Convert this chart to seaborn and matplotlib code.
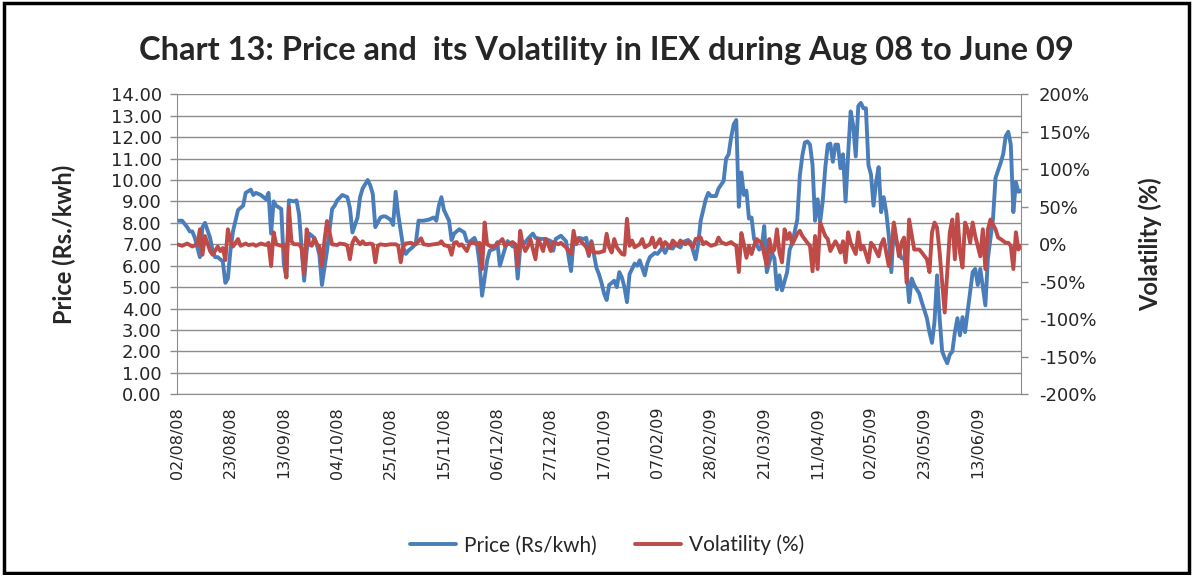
import matplotlib
matplotlib.use("Agg")
import matplotlib.pyplot as plt
import seaborn as sns
import pandas as pd
from matplotlib.patches import Rectangle
from matplotlib.ticker import FuncFormatter, MultipleLocator

# ---- data (day offset from 02/08/08, value) ----
price_days = [0, 2, 4, 5, 6, 7, 9, 10, 11, 13, 14, 15, 16, 18, 19, 20, 21, 22, 24, 26, 27, 29, 30, 31, 33, 35, 36, 37, 38, 39,
              41, 42, 43, 44, 46, 47, 48, 50, 51, 52, 54, 55, 56, 57, 59, 61, 62, 63, 65, 67, 68, 69, 71, 72, 73, 75, 76, 77, 78, 80,
              81, 82, 84, 85, 86, 87, 89, 90, 91, 93, 94, 95, 97, 99, 101, 102, 103, 104, 105, 107, 108, 109, 111, 113, 114, 115, 117, 118, 119, 120,
              122, 123, 125, 126, 127, 129, 130, 132, 133, 134, 135, 137, 138, 140, 141, 143, 145, 147, 148, 149, 151, 153, 155, 156, 158, 160, 161, 162, 163, 165,
              166, 167, 168, 169, 170, 172, 173, 174, 175, 176, 177, 178, 180, 181, 182, 184, 185, 186, 188, 189, 191, 192, 193, 195, 196, 198, 199, 201, 202, 204,
              205, 206, 208, 209, 210, 212, 213, 215, 216, 217, 218, 219, 220, 221, 222, 223, 224, 225, 226, 227, 229, 230, 231, 232, 234, 235, 236, 237, 238, 240,
              241, 242, 244, 245, 246, 247, 248, 249, 250, 251, 252, 253, 254, 255, 256, 257, 258, 259, 260, 261, 262, 263, 264, 265, 266, 267, 268, 269, 270, 271,
              272, 273, 274, 275, 276, 277, 278, 279, 280, 281, 282, 283, 285, 286, 287, 288, 289, 290, 292, 293, 295, 296, 297, 298, 299, 300, 301, 302, 303, 304,
              305, 306, 307, 308, 309, 310, 311, 313, 314, 315, 316, 318, 319, 321, 322, 324, 325, 326, 327, 328, 329, 330, 331, 332]
price_vals = [8.1, 8.1, 7.8, 7.6, 7.6, 7.3, 6.4, 7.8, 8.0, 7.3, 6.7, 6.4, 6.4, 6.2, 5.2, 5.4, 6.7, 7.6, 8.6, 8.8, 9.4, 9.55, 9.3, 9.4, 9.3, 9.1, 9.4, 7.5, 9.0, 8.8,
              8.65, 6.1, 5.45, 9.05, 9.0, 9.05, 8.4, 5.3, 6.7, 7.5, 7.3, 7.0, 6.5, 5.1, 6.7, 8.65, 8.8, 9.05, 9.3, 9.2, 8.7, 7.55, 8.25, 9.2, 9.6, 10.0, 9.75, 9.35, 7.8, 8.25,
              8.3, 8.3, 8.15, 7.9, 9.45, 8.4, 6.85, 6.55, 6.7, 6.9, 7.1, 8.1, 8.1, 8.15, 8.25, 8.1, 8.8, 9.2, 8.6, 8.1, 7.2, 7.5, 7.7, 7.55, 7.15, 7.1, 7.3, 7.0, 6.1, 4.6,
              6.25, 6.7, 6.8, 7.1, 6.0, 6.8, 7.15, 6.9, 7.0, 5.4, 6.85, 7.1, 7.25, 7.5, 7.3, 7.25, 7.25, 7.15, 6.7, 7.25, 7.4, 7.15, 5.75, 7.15, 7.3, 7.25, 7.3, 6.45, 7.15, 5.9,
              5.6, 5.2, 4.7, 4.4, 5.1, 5.3, 5.0, 5.7, 5.45, 5.0, 4.3, 5.6, 6.1, 6.0, 6.25, 5.55, 6.1, 6.4, 6.6, 6.55, 6.85, 6.6, 6.85, 6.8, 7.0, 6.85, 7.1, 7.2, 7.1, 6.3,
              7.0, 8.1, 9.1, 9.4, 9.25, 9.25, 9.6, 9.95, 11.0, 11.2, 12.0, 12.6, 12.8, 8.75, 10.35, 9.3, 9.5, 8.2, 8.25, 7.25, 6.75, 6.9, 7.85, 5.7, 6.6, 6.35, 4.9, 5.55, 4.85, 5.7,
              6.75, 7.05, 8.15, 10.2, 11.15, 11.75, 11.8, 11.65, 10.7, 8.1, 9.1, 8.05, 9.0, 10.55, 11.65, 11.7, 10.85, 11.65, 11.65, 10.55, 11.2, 9.0, 11.2, 13.2, 12.55, 11.1, 13.45, 13.6, 13.35, 13.35,
              10.7, 10.25, 8.8, 9.9, 10.6, 8.5, 9.2, 8.5, 7.4, 5.7, 7.9, 7.1, 6.35, 6.35, 5.7, 4.3, 5.4, 5.1, 4.7, 4.3, 3.55, 2.9, 2.4, 3.4, 5.55, 3.55, 2.0, 1.7, 1.45, 1.85,
              2.0, 2.9, 3.55, 2.75, 3.6, 2.9, 3.85, 5.7, 5.85, 5.1, 5.85, 4.15, 6.35, 8.2, 10.1, 10.8, 11.2, 12.05, 12.25, 11.65, 8.5, 9.9, 9.45, 9.5]

vol_days = [0, 2, 4, 6, 8, 9, 10, 11, 13, 14, 16, 17, 18, 19, 20, 21, 22, 24, 25, 27, 28, 30, 31, 33, 35, 36, 37, 38, 39, 41,
            42, 43, 44, 45, 46, 48, 49, 50, 51, 52, 53, 54, 55, 56, 57, 58, 59, 60, 61, 63, 64, 66, 67, 68, 69, 70, 72, 73, 74, 76,
            77, 78, 79, 80, 82, 84, 86, 87, 88, 89, 90, 92, 93, 94, 96, 97, 99, 101, 103, 104, 105, 107, 108, 109, 110, 111, 112, 114, 115, 116,
            118, 119, 120, 121, 122, 124, 126, 128, 129, 130, 132, 133, 134, 135, 136, 137, 138, 139, 141, 142, 143, 144, 145, 146, 147, 148, 150, 151, 153, 155,
            156, 157, 158, 160, 161, 162, 163, 164, 166, 167, 168, 169, 170, 171, 172, 173, 175, 176, 177, 178, 179, 180, 182, 183, 184, 186, 187, 188, 190, 191,
            192, 194, 195, 197, 198, 200, 201, 203, 204, 206, 207, 208, 210, 212, 213, 214, 216, 218, 219, 220, 221, 222, 223, 224, 225, 226, 227, 228, 229, 230,
            232, 233, 234, 235, 236, 237, 238, 239, 240, 241, 242, 244, 245, 246, 248, 249, 250, 251, 252, 253, 255, 256, 257, 259, 260, 261, 262, 263, 264, 265,
            267, 268, 269, 270, 272, 273, 274, 276, 277, 278, 280, 281, 282, 284, 285, 286, 287, 288, 290, 292, 293, 295, 296, 297, 298, 299, 300, 302, 303, 304,
            305, 306, 307, 308, 309, 310, 311, 312, 313, 314, 316, 317, 318, 319, 320, 322, 323, 324, 326, 327, 328, 329, 330, 331, 332]
vol_vals = [0, -2, 1, -3, 0, 20, -14, 11, -9, -14, -3, -9, -5, -21, 20, 5, -3, 7, -2, 1, -1, 0, -2, 1, -1, 2, -29, 16, 0, -2,
            0, -44, 50, 4, 0, 0, -5, -40, 20, 0, -2, 8, 0, -3, -29, 5, 31, 16, 0, -1, 1, 0, -2, -20, 2, 9, 0, 4, 0, 1,
            0, -24, -2, 0, -1, 0, 0, -2, -24, -3, 1, 2, 0, 0, 8, 0, -1, 0, 1, 4, -1, -3, -14, 2, 3, -2, 0, -9, 0, 3,
            0, 2, -33, 29, 0, -4, 0, 7, -2, 0, 3, 0, -29, 18, 0, -9, -3, 7, -20, 7, 0, -9, 7, 0, -9, 3, 0, 2, -4, -13,
            18, 0, 7, 0, -4, -14, 3, -11, -11, -10, -9, 14, -4, -11, 7, -4, -13, -14, 34, -2, 5, -4, 0, 7, -4, 0, 9, -4, 7, -4,
            3, -4, 5, -2, 5, 0, 3, -4, 7, 9, 0, 3, -2, 0, 9, 3, 0, 3, 0, -2, -37, 15, 0, -18, -2, -13, -2, 7, 4, 2,
            -29, 7, -11, -7, 20, -11, -24, 20, 7, 15, 0, 14, 18, 11, 2, -2, -36, 11, -33, 29, 11, 7, -9, 4, -2, -11, 4, -24, 16, 2,
            -13, 16, -7, -2, -24, 2, -2, -16, 0, 7, -29, -7, 29, -16, 2, 9, -51, 33, -7, -7, -11, -20, -37, 16, 29, 22, -11, -91, -37, 16,
            33, -20, 40, -11, -31, 29, 20, 2, 29, 11, -16, 20, -33, 20, 33, 20, 9, 7, 2, 2, -2, -33, 16, -7, -2]

tick_days = [0, 21, 42, 63, 84, 105, 126, 147, 168, 189, 210, 231, 252, 273, 294, 315]
tick_labels = ["02/08/08", "23/08/08", "13/09/08", "04/10/08", "25/10/08", "15/11/08", "06/12/08", "27/12/08",
               "17/01/09", "07/02/09", "28/02/09", "21/03/09", "11/04/09", "02/05/09", "23/05/09", "13/06/09"]

title = "Chart 13: Price and  its Volatility in IEX during Aug 08 to June 09"
price_name = "Price (Rs/kwh)"
vol_name = "Volatility (%)"

price_df = pd.DataFrame({"day": price_days, "value": price_vals})
vol_df = pd.DataFrame({"day": vol_days, "value": vol_vals})

BLUE = "#4A7EBB"
RED = "#BE4B48"
GRID = "#8C8C8C"

sns.set_style("white")
plt.rcParams["font.family"] = ["DejaVu Sans"]

fig = plt.figure(figsize=(11.93, 5.75), dpi=100)
ax = fig.add_axes([0.1484, 0.3143, 0.8558 - 0.1484, 0.836 - 0.3143])
ax2 = ax.twinx()

sns.lineplot(data=price_df, x="day", y="value", ax=ax, color=BLUE, lw=2.8, label=price_name, legend=False)
sns.lineplot(data=vol_df, x="day", y="value", ax=ax2, color=RED, lw=2.8, label=vol_name, legend=False)

ax.set_xlim(0, 332)
ax.set_ylim(0, 14)
ax2.set_ylim(-200, 200)
ax.yaxis.set_major_locator(MultipleLocator(1))
ax.yaxis.set_major_formatter(FuncFormatter(lambda v, p: f"{v:.2f}"))
ax2.yaxis.set_major_locator(MultipleLocator(50))
ax2.yaxis.set_major_formatter(FuncFormatter(lambda v, p: f"{int(round(v))}%"))

ax.grid(axis="y", color=GRID, lw=1.0)
ax.grid(axis="x", visible=False)
ax.set_axisbelow(True)

ax.set_xticks(tick_days)
ax.set_xticklabels(tick_labels, rotation=90, fontsize=11.5)
ax.tick_params(axis="x", length=5, width=1, color=GRID, pad=4, direction="out")
ax.tick_params(axis="y", length=5, width=1, color=GRID, labelsize=13, pad=6, direction="out")
ax2.tick_params(axis="y", length=5, width=1, color=GRID, labelsize=13, pad=8, direction="out")

for a in (ax, ax2):
    a.spines["top"].set_visible(False)
    a.spines["left"].set_color(GRID)
    a.spines["right"].set_color(GRID)
    a.spines["bottom"].set_color(GRID)
ax.spines["right"].set_visible(False)
ax2.spines["left"].set_visible(False)
ax2.spines["bottom"].set_visible(False)

ax.set_xlabel("")
ax.set_ylabel("Price (Rs./kwh)", fontsize=17, fontweight="bold", family="Lato", labelpad=25)
ax2.set_ylabel("Volatility (%)", fontsize=17, fontweight="bold", family="Lato", labelpad=30)

fig.text(0.5085, 0.912, title, ha="center", va="center", fontsize=23.5, fontweight="bold", family="Lato")

h1, l1 = ax.get_legend_handles_labels()
h2, l2 = ax2.get_legend_handles_labels()
fig.legend(h1 + h2, l1 + l2, loc="center", bbox_to_anchor=(0.509, 0.052), ncol=2, frameon=False,
           prop={"family": "Lato", "size": 15}, handlelength=2.2, handletextpad=0.4, columnspacing=1.8)

fig.patches.append(Rectangle((0.003, 0.004), 0.994, 0.99, transform=fig.transFigure, fill=False,
                             edgecolor="black", lw=2.5))

fig.savefig("out.png", dpi=100)
